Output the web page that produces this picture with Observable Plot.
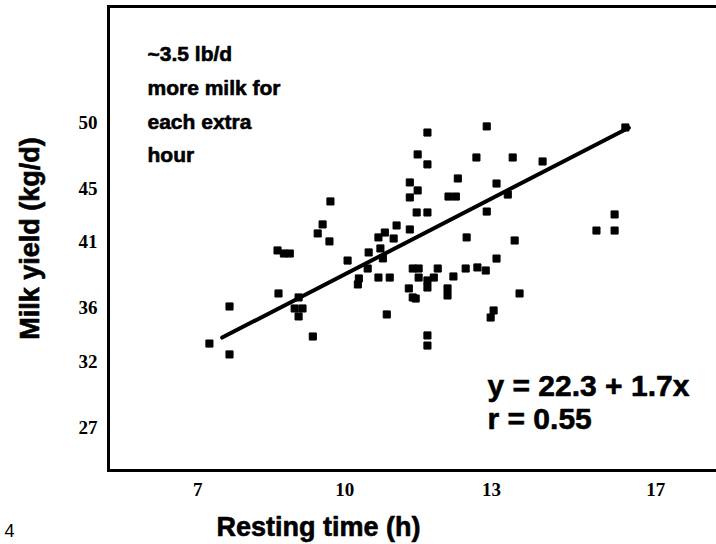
<!DOCTYPE html>
<html>
<head>
<meta charset="utf-8">
<script src="https://cdn.jsdelivr.net/npm/d3@7"></script>
<script src="https://cdn.jsdelivr.net/npm/@observablehq/plot@0.6"></script>
<style>
  html, body { margin: 0; padding: 0; background: #fff; }
  #chart { width: 716px; height: 544px; overflow: hidden; }
</style>
</head>
<body>
<div id="chart"></div>
<script>
// Resting time (h) and milk yield (kg/d) for each cow
const restingHours = [
  7.24, 7.65, 7.65, 8.65, 9.06, 8.98, 9.14, 9.06, 9.35, 8.63, 8.76, 8.88,
  9.71, 9.55, 9.45, 9.69, 10.06, 10.29, 10.27, 10.49, 10.47, 10.69, 10.92,
  10.73, 10.78, 10.69, 10.82, 11.00, 11.06, 11.33, 11.33, 11.49, 11.33,
  11.49, 11.69, 11.69, 11.47, 11.69, 12.12, 12.27, 12.31, 12.69, 12.90,
  13.10, 13.33, 12.90, 12.49, 13.43, 14.04, 15.73, 15.51, 15.14, 15.51,
  13.47, 13.10, 13.57, 13.04, 12.98, 10.86, 11.69, 11.69, 11.39, 11.51,
  11.90, 11.51, 11.69, 11.82, 11.31, 11.39, 11.45, 11.69, 12.10, 12.10,
  12.22, 12.47, 12.71, 12.88
];
const milkYield = [
  33.35, 36.14, 32.53, 37.12, 36.82, 35.99, 35.99, 35.39, 33.88, 40.36, 40.13, 40.13,
  44.05, 42.32, 41.64, 41.04, 39.60, 38.25, 37.80, 40.21, 39.00, 38.32, 38.32,
  40.51, 39.76, 41.34, 41.71, 41.26, 42.24, 41.94, 45.48, 44.88, 44.35,
  47.59, 49.24, 46.84, 43.22, 43.22, 44.42, 44.42, 45.78, 47.36, 49.70,
  45.40, 44.57, 43.29, 41.34, 47.36, 47.06, 49.62, 43.07, 41.86, 41.86,
  41.11, 39.75, 37.12, 35.84, 35.31, 35.54, 33.96, 33.20, 39.00, 39.00,
  39.00, 38.32, 38.10, 38.32, 37.50, 36.82, 36.74, 37.57, 37.50, 36.97,
  38.40, 39.00, 39.08, 38.85
];

// Fitted line as drawn (end points)
const fitHours = [7.5, 15.8];
const fitYield = [33.8, 49.6];

// Axes
const xDomain = [5.18, 17.59];
const yDomain = [23.79, 58.73];
const xTickValues = [7, 10, 13, 16.35];
const xTickLabels = ["7", "10", "13", "17"];
const yTickValues = [27, 32, 36, 41, 45, 50];
const yTickLabels = ["27", "32", "36", "41", "45", "50"];

// Texts
const xTitle = "Resting time (h)";
const yTitle = "Milk yield (kg/d)";
const noteLines = ["~3.5 lb/d", "more milk for", "each extra", "hour"];
const equationLines = ["y = 22.3 + 1.7x", "r = 0.55"];
const panelTag = "4";

const points = restingHours.map((h, i) => ({hours: h, yield: milkYield[i]}));
const fit = fitHours.map((h, i) => ({hours: h, yield: fitYield[i]}));

const sans = "'Liberation Sans', Arial, sans-serif";
const serif = "'Liberation Serif', 'Times New Roman', serif";

const chart = Plot.plot({
  width: 716,
  height: 544,
  marginLeft: 108,
  marginRight: 0,
  marginTop: 6,
  marginBottom: 74,
  style: {background: "#fff", color: "#000", fontFamily: sans, overflow: "hidden"},
  x: {domain: xDomain},
  y: {domain: yDomain},
  marks: [
    Plot.axisX({
      ticks: xTickValues,
      tickFormat: d => xTickLabels[xTickValues.indexOf(d)],
      tickSize: 0, tickPadding: 12, label: null,
      fontSize: 19, fontWeight: "bold", fontFamily: serif
    }),
    Plot.axisY({
      ticks: yTickValues,
      tickFormat: d => yTickLabels[yTickValues.indexOf(d)],
      tickSize: 0, tickPadding: 11, label: null,
      fontSize: 19, fontWeight: "bold", fontFamily: serif
    }),
    Plot.frame({anchor: "left", stroke: "#000", strokeWidth: 3}),
    Plot.frame({anchor: "top", stroke: "#000", strokeWidth: 3}),
    Plot.frame({anchor: "bottom", stroke: "#000", strokeWidth: 3}),
    Plot.line(fit, {x: "hours", y: "yield", stroke: "#000", strokeWidth: 4}),
    Plot.dot(points, {x: "hours", y: "yield", symbol: "square", r: 4, fill: "#000", stroke: "#000", strokeWidth: 1}),
    Plot.text([noteLines.join("\n")], {
      text: d => d, frameAnchor: "top-left", dx: 39, dy: 31,
      textAnchor: "start", lineAnchor: "top", lineHeight: 1.6,
      fontSize: 21, fontWeight: "bold", fill: "#000", stroke: "#000", strokeWidth: 0.6
    }),
    Plot.text([equationLines.join("\n")], {
      text: d => d, frameAnchor: "top-left", dx: 379, dy: 366,
      textAnchor: "start", lineAnchor: "top", lineHeight: 1.1,
      fontSize: 30, fontWeight: "bold", fill: "#000", stroke: "#000", strokeWidth: 0.6
    }),
    Plot.text([xTitle], {
      text: d => d, frameAnchor: "bottom", dx: -94, dy: 57,
      textAnchor: "middle", lineAnchor: "middle",
      fontSize: 27, fontWeight: "bold", fill: "#000", stroke: "#000", strokeWidth: 0.6
    }),
    Plot.text([yTitle], {
      text: d => d, frameAnchor: "left", dx: -78, dy: 0, rotate: -90,
      textAnchor: "middle", lineAnchor: "middle",
      fontSize: 27, fontWeight: "bold", fill: "#000", stroke: "#000", strokeWidth: 0.6
    }),
    Plot.text([panelTag], {
      text: d => d, frameAnchor: "bottom-left", dx: -104, dy: 54,
      textAnchor: "start", lineAnchor: "top",
      fontSize: 18, fill: "#000"
    })
  ]
});
document.getElementById("chart").appendChild(chart);
</script>
</body>
</html>
